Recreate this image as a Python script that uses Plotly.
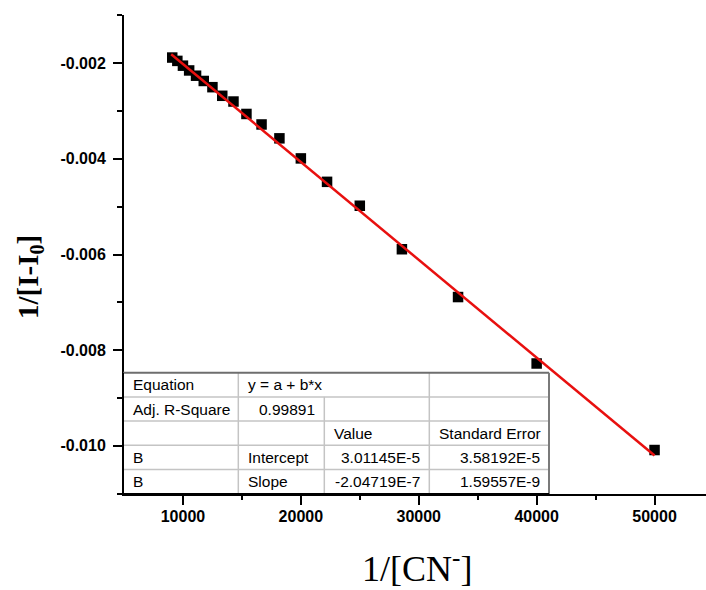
import plotly.graph_objects as go

# ---- data ----
inv_cn = [9091, 9524, 10000, 10526, 11111, 11765, 12500, 13333, 14286, 15385,
          16667, 18182, 20000, 22222, 25000, 28571, 33333, 40000, 50000]
inv_di = [-0.00188, -0.00195, -0.00205, -0.00215, -0.00226, -0.00237, -0.00250,
          -0.00268, -0.00280, -0.00306, -0.00328, -0.00357, -0.00399, -0.00448,
          -0.00498, -0.00589, -0.00689, -0.00828, -0.01009]
fit_a = 3.01145e-5
fit_b = -2.04719e-7
fit_x = [9000, 50000]
fit_y = [fit_a + fit_b * v for v in fit_x]

x_tickvals = [10000, 20000, 30000, 40000, 50000]
x_ticktext = ["10000", "20000", "30000", "40000", "50000"]
y_tickvals = [-0.010, -0.008, -0.006, -0.004, -0.002]
y_ticktext = ["-0.010", "-0.008", "-0.006", "-0.004", "-0.002"]

table_rows = [
    ["Equation", "y = a + b*x", "", ""],
    ["Adj. R-Square", "0.99891", "", ""],
    ["", "", "Value", "Standard Error"],
    ["B", "Intercept", "3.01145E-5", "3.58192E-5"],
    ["B", "Slope", "-2.04719E-7", "1.59557E-9"],
]
table_align = [
    ["left", "left", "left", "left"],
    ["left", "right", "left", "left"],
    ["left", "left", "left", "left"],
    ["left", "left", "right", "right"],
    ["left", "left", "right", "right"],
]

# ---- layout geometry (pixels) ----
W, H = 706, 590
L, R, T, B = 124, 0, 15, 96
PW, PH = W - L - R, H - T - B
def fx(px):
    return (px - L) / PW
def fy(py):
    return (H - B - py) / PH

fig = go.Figure()
fig.add_trace(go.Scatter(x=inv_cn, y=inv_di, mode="markers",
                         marker=dict(symbol="square", size=10.5, color="black"),
                         showlegend=False))
fig.add_trace(go.Scatter(x=fit_x, y=fit_y, mode="lines",
                         line=dict(color="#e8100f", width=2.5),
                         showlegend=False))

tick_font = dict(family="Liberation Sans, Arial", size=16, color="black", weight="bold")
fig.update_layout(
    width=W, height=H,
    margin=dict(l=L, r=R, t=T, b=B),
    paper_bgcolor="white", plot_bgcolor="white",
    xaxis=dict(range=[5000, 5000 + PW / 117.9 * 10000], showgrid=False, zeroline=False,
               showline=True, linecolor="black", linewidth=2,
               ticks="outside", ticklen=9, tickwidth=2, tickcolor="black",
               tickvals=x_tickvals, ticktext=x_ticktext, tickfont=tick_font,
               ticklabelstandoff=-2,
               minor=dict(tickvals=[15000, 25000, 35000, 45000], ticks="outside",
                          ticklen=4, tickwidth=2, tickcolor="black")),
    yaxis=dict(range=[-0.01101, -0.00099], showgrid=False, zeroline=False,
               showline=True, linecolor="black", linewidth=2,
               ticks="outside", ticklen=9, tickwidth=2, tickcolor="black",
               tickvals=y_tickvals, ticktext=y_ticktext, tickfont=tick_font,
               ticklabelstandoff=4,
               minor=dict(tickvals=[-0.011, -0.009, -0.007, -0.005, -0.003, -0.001],
                          ticks="outside", ticklen=5, tickwidth=2, tickcolor="black")),
)

# ---- fit table ----
col_px = [123, 238.3, 324.3, 429.3, 549]
row_px = [372.7, 396.9, 421.1, 445.3, 469.6, 494]
shapes = []
shapes.append(dict(type="rect", xref="paper", yref="paper",
                   x0=fx(col_px[0]), x1=fx(col_px[-1]), y0=fy(row_px[-1]), y1=fy(row_px[0]),
                   fillcolor="white", line=dict(width=0), layer="above"))
grid = "#c4c4c4"
for r in row_px[1:-1]:
    shapes.append(dict(type="line", xref="paper", yref="paper",
                       x0=fx(col_px[0]), x1=fx(col_px[-1]), y0=fy(r), y1=fy(r),
                       line=dict(color=grid, width=1.5), layer="above"))
shapes.append(dict(type="line", xref="paper", yref="paper", x0=fx(col_px[1]), x1=fx(col_px[1]),
                   y0=fy(row_px[0]), y1=fy(row_px[-1]), line=dict(color=grid, width=1.5), layer="above"))
shapes.append(dict(type="line", xref="paper", yref="paper", x0=fx(col_px[2]), x1=fx(col_px[2]),
                   y0=fy(row_px[1]), y1=fy(row_px[-1]), line=dict(color=grid, width=1.5), layer="above"))
shapes.append(dict(type="line", xref="paper", yref="paper", x0=fx(col_px[3]), x1=fx(col_px[3]),
                   y0=fy(row_px[0]), y1=fy(row_px[-1]), line=dict(color=grid, width=1.5), layer="above"))
shapes.append(dict(type="line", xref="paper", yref="paper", x0=fx(col_px[0]), x1=fx(col_px[-1]),
                   y0=fy(row_px[0]), y1=fy(row_px[0]), line=dict(color="#6e6e6e", width=2), layer="above"))
shapes.append(dict(type="line", xref="paper", yref="paper", x0=fx(col_px[-1]), x1=fx(col_px[-1]),
                   y0=fy(row_px[0]), y1=fy(row_px[-1]), line=dict(color="#7a7a7a", width=2), layer="above"))
shapes.append(dict(type="line", xref="paper", yref="paper", x0=fx(col_px[0]), x1=fx(col_px[-1]),
                   y0=fy(row_px[-1]), y1=fy(row_px[-1]), line=dict(color="black", width=2), layer="above"))
shapes.append(dict(type="line", xref="paper", yref="paper", x0=fx(col_px[0]), x1=fx(col_px[0]),
                   y0=fy(row_px[0]), y1=fy(row_px[-1]), line=dict(color="black", width=2), layer="above"))

annotations = []
cell_font = dict(family="Liberation Sans, Arial", size=15.5, color="black")
pad = 7.5
for ri, row in enumerate(table_rows):
    yc = (row_px[ri] + row_px[ri + 1]) / 2
    for ci, txt in enumerate(row):
        if not txt:
            continue
        al = table_align[ri][ci]
        xp = col_px[ci] + pad if al == "left" else col_px[ci + 1] - pad
        annotations.append(dict(text=txt, xref="paper", yref="paper",
                                x=fx(xp), y=fy(yc), xanchor=al, yanchor="middle",
                                showarrow=False, font=cell_font))

# axis titles
annotations.append(dict(text="1/[CN<sup>-</sup>]", xref="paper", yref="paper",
                        x=fx(417), y=fy(566), xanchor="center", yanchor="middle",
                        showarrow=False,
                        font=dict(family="Liberation Serif, Times New Roman", size=36, color="black")))
annotations.append(dict(text="<b>1/[I-I<sub>0</sub>]</b>", xref="paper", yref="paper",
                        x=fx(30), y=fy(277), xanchor="center", yanchor="middle",
                        showarrow=False, textangle=-90,
                        font=dict(family="Liberation Serif, Times New Roman", size=29, color="black")))

fig.update_layout(shapes=shapes, annotations=annotations)
fig.write_html("out.html")
